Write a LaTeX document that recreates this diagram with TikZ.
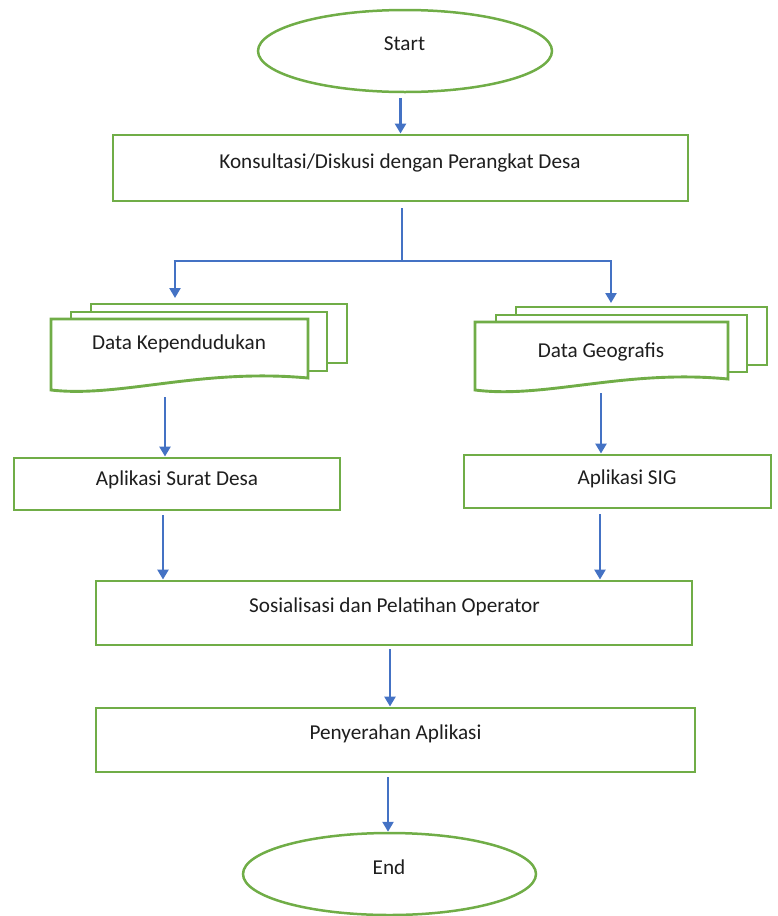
\documentclass[tikz,border=0pt]{standalone}
\usepackage{fontspec}
\setmainfont{Carlito}
\usetikzlibrary{arrows.meta,shapes.geometric,calc}
\definecolor{gr}{RGB}{112,173,71}
\definecolor{bl}{RGB}{68,114,196}
\definecolor{tx}{RGB}{30,30,30}
\begin{document}
\begin{tikzpicture}[x=1pt,y=-1pt,
  box/.style={draw=gr,line width=2.9pt,fill=white,rectangle,inner sep=0pt},
  ell/.style={draw=gr,line width=2.5pt,ellipse,inner sep=0pt},
  sheet/.style={draw=gr,line width=2.9pt,fill=white,line join=miter},
  txt/.style={font=\fontsize{21.2}{25}\selectfont,text=tx,inner sep=0pt,anchor=base},
  ghost/.style={inner sep=0pt,outer sep=0pt},
  arr/.style={draw=bl,line width=2.6pt,-{Triangle[width=11pt,length=10pt]}},
  ln/.style={draw=bl,line width=2.6pt}]
\useasboundingbox (0,0) rectangle (778,916);

% terminals and process boxes
\node[ell,minimum width=294pt,minimum height=82pt] (start) at (405,51) {};
\node[txt] (startT) at (404.5,50.6) {Start};

\node[box,minimum width=575pt,minimum height=66pt] (kons) at (400.5,168) {};
\node[txt] (konsT) at (400,168) {Konsultasi/Diskusi dengan Perangkat Desa};

\node[box,minimum width=326pt,minimum height=52pt] (surat) at (177,484) {};
\node[txt] (suratT) at (177,485.5) {Aplikasi Surat Desa};

\node[box,minimum width=307pt,minimum height=53pt] (sig) at (617.5,481.5) {};
\node[txt] (sigT) at (627,484) {Aplikasi SIG};

\node[box,minimum width=596pt,minimum height=64pt] (sos) at (394,613) {};
\node[txt] (sosT) at (394.5,612.6) {Sosialisasi dan Pelatihan Operator};

\node[box,minimum width=599pt,minimum height=64pt] (pen) at (395.5,740) {};
\node[txt] (penT) at (395.5,739) {Penyerahan Aplikasi};

\node[ell,minimum width=293pt,minimum height=82pt] (end) at (389.5,874) {};
\node[txt] (endT) at (389,874.6) {End};

% multi-document: Data Kependudukan
\draw[sheet] (91,304) rectangle (347,363);
\draw[sheet] (71,312) rectangle (327,371);
\draw[sheet] (51,319) -- (308,319) -- (308,378)
  .. controls (200,368) and (120,398) .. (51,390) -- cycle;
\node[ghost,minimum width=296pt,minimum height=86pt] (dkstack) at (199,347) {};
\node[txt] (dkT) at (179,349) {Data Kependudukan};

% multi-document: Data Geografis
\draw[sheet] (516,307) rectangle (767,365);
\draw[sheet] (496,315) rectangle (747,372);
\draw[sheet] (475,322) -- (728,322) -- (728,379)
  .. controls (625,369) and (545,399) .. (475,390) -- cycle;
\node[ghost,minimum width=292pt,minimum height=83pt] (dgstack) at (621,348.5) {};
\node[txt] (dgT) at (601,357) {Data Geografis};

% connector columns
\coordinate (br) at (402,261);
\coordinate (bL) at (175,261);
\coordinate (bR) at (611,261);
\coordinate (c1) at (165,0);
\coordinate (c2) at (601,0);
\coordinate (c3) at (163,0);
\coordinate (c4) at (600,0);
\coordinate (c5) at (390,0);
\coordinate (c6) at (388,0);

% connectors
\draw[arr,shorten <=5pt] (start.south -| kons.north) -- (kons.north);
\draw[ln,shorten <=6pt] (kons.south -| br) -- (br);
\draw[ln] ([xshift=-1.3pt]bL) -- ([xshift=1.3pt]bR);
\draw[arr,shorten >=6pt] (bL) -- (bL |- dkstack.north);
\draw[arr,shorten >=4pt] (bR) -- (bR |- dgstack.north);
\draw[arr,shorten <=7pt] (dkstack.south -| c1) -- (surat.north -| c1);
\draw[arr,shorten <=3pt] (dgstack.south -| c2) -- (sig.north -| c2);
\draw[arr,shorten <=4pt] (surat.south -| c3) -- (sos.north -| c3);
\draw[arr,shorten <=5pt] (sig.south -| c4) -- (sos.north -| c4);
\draw[arr,shorten <=3pt] (sos.south -| c5) -- (pen.north -| c5);
\draw[arr,shorten <=4pt] (pen.south -| c6) -- (end.north -| c6);
\end{tikzpicture}
\end{document}
